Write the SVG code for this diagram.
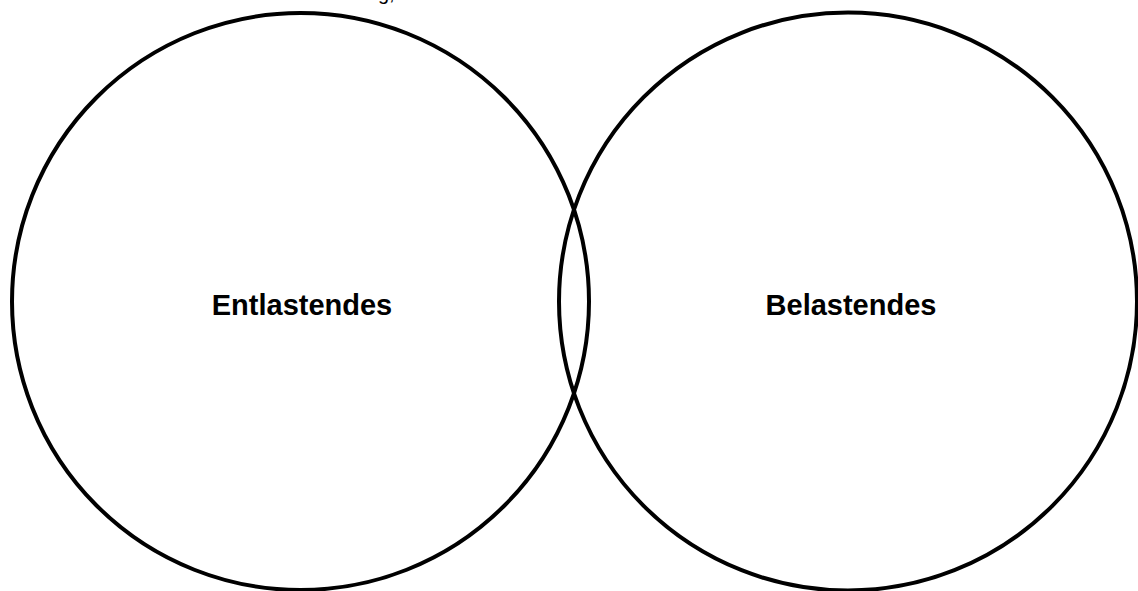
<svg xmlns="http://www.w3.org/2000/svg" width="1138" height="591" viewBox="0 0 1138 591">
<style>
.c{fill:none;stroke:#000;stroke-width:4}
.t{font-family:"Liberation Sans",Arial,sans-serif;font-weight:bold;font-size:29px;text-anchor:middle;fill:#000}
.top{font-family:"Liberation Sans",Arial,sans-serif;font-size:20px;fill:#000}
</style>
<rect width="1138" height="591" fill="#fff"/>
<text class="top" x="378" y="0">g,</text>
<g id="entlastendes">
<circle class="c" cx="300.5" cy="301.5" r="288.5"/>
<text class="t" x="302" y="315">Entlastendes</text>
</g>
<g id="belastendes">
<circle class="c" cx="848" cy="301.5" r="289"/>
<text class="t" x="851" y="315">Belastendes</text>
</g>
<g id="connectors"></g>
</svg>
